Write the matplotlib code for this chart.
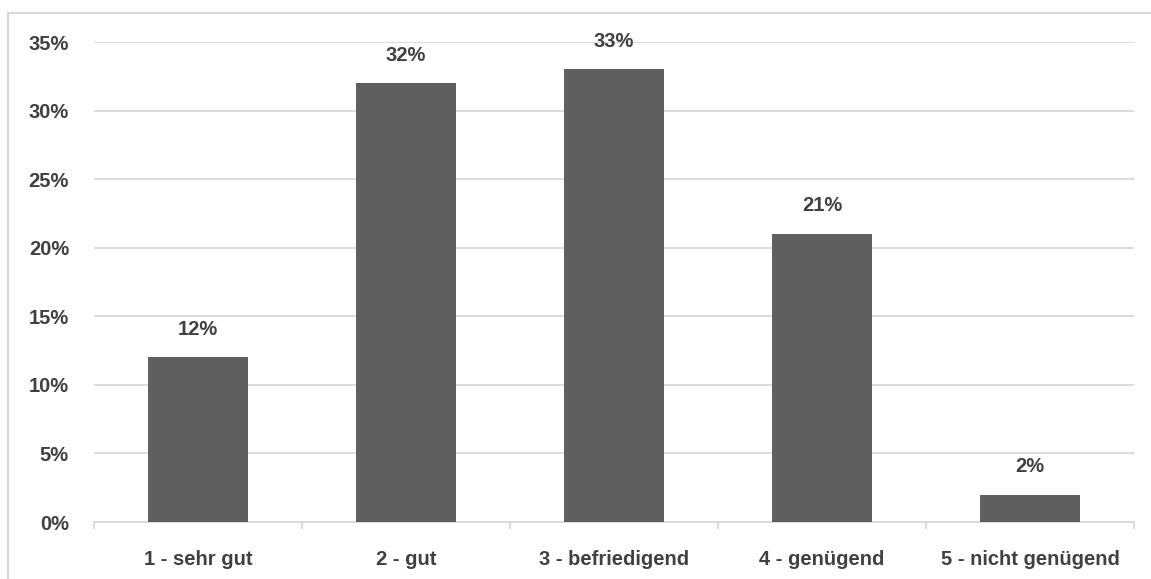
import matplotlib.pyplot as plt
from matplotlib.lines import Line2D
from matplotlib.ticker import PercentFormatter

# Notenverteilung
kategorien = ['1 - sehr gut', '2 - gut', '3 - befriedigend', '4 - genügend', '5 - nicht genügend']
anteile = [12, 32, 33, 21, 2]
y_ticks = [0, 5, 10, 15, 20, 25, 30, 35]

bar_color = '#5f5f5f'
text_color = '#404040'
grid_color = '#d9d9d9'
fs = 14.5

plt.rcParams['font.family'] = ['Liberation Sans', 'DejaVu Sans']

fig = plt.figure(figsize=(11.51, 5.79), dpi=100)
ax = fig.add_axes([94 / 1151, 1 - 522 / 579, 1040 / 1151, 480 / 579])

x = range(len(kategorien))
bars = ax.bar(x, anteile, width=0.48, color=bar_color, zorder=3)

for b, v in zip(bars, anteile):
    ax.text(b.get_x() + b.get_width() / 2, v + 1.35, f'{v}%', ha='center', va='bottom',
            fontsize=fs, fontweight='bold', color=text_color)

ax.set_xlim(-0.5, len(kategorien) - 0.5)
ax.set_ylim(0, 35)
ax.set_yticks(y_ticks)
ax.yaxis.set_major_formatter(PercentFormatter(decimals=0))
ax.yaxis.grid(True, color=grid_color, linewidth=1.3, zorder=0)

ax.set_xticks(list(x))
ax.set_xticklabels(kategorien)
ax.set_xticks([i - 0.5 for i in range(len(kategorien) + 1)], minor=True)
ax.tick_params(axis='x', which='major', length=0, pad=20)
ax.tick_params(axis='x', which='minor', length=5, width=1.3, color=grid_color)
ax.tick_params(axis='y', length=0, pad=18)

for lbl in ax.get_xticklabels() + ax.get_yticklabels():
    lbl.set_fontsize(fs)
    lbl.set_fontweight('bold')
    lbl.set_color(text_color)

for s in ['top', 'right', 'left']:
    ax.spines[s].set_visible(False)
ax.spines['bottom'].set_color(grid_color)
ax.spines['bottom'].set_linewidth(1.3)

# Rahmen oben und links
fig.add_artist(Line2D([8 / 1151, 8 / 1151], [0, 1 - 13 / 579], color=grid_color, linewidth=1.5))
fig.add_artist(Line2D([8 / 1151, 1], [1 - 13 / 579, 1 - 13 / 579], color=grid_color, linewidth=1.5))

plt.savefig('out.png', dpi=100)
